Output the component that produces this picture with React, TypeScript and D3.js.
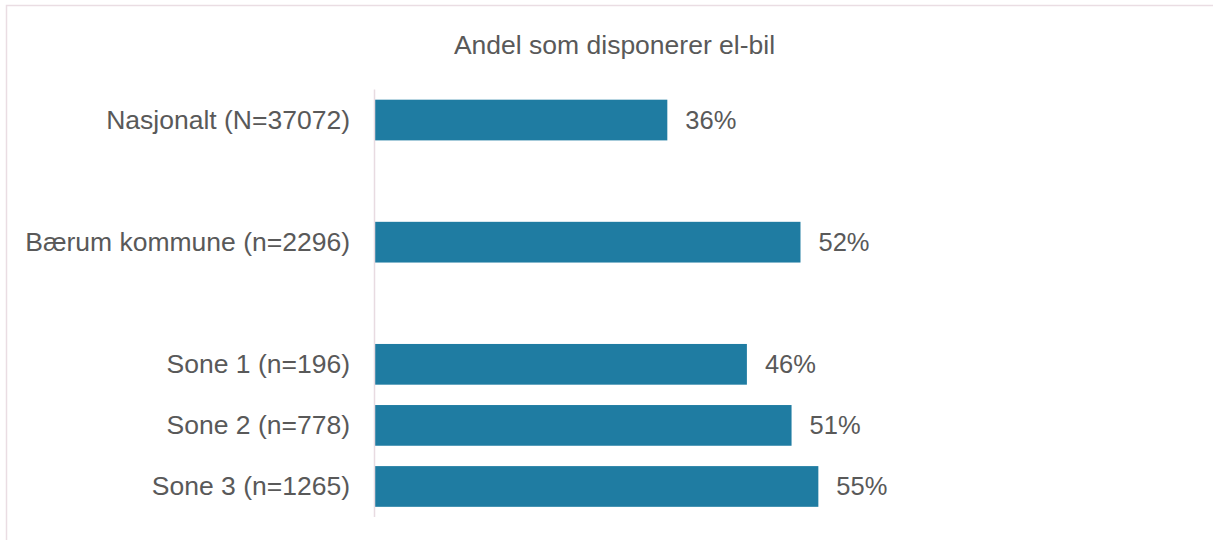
import React, { useEffect, useRef } from "react";
import * as d3 from "d3";

// slots with blank spacers between the groups, like in the original Excel chart
const categories = [
  "Nasjonalt (N=37072)",
  "",
  "Bærum kommune (n=2296)",
  " ",
  "Sone 1 (n=196)",
  "Sone 2 (n=778)",
  "Sone 3 (n=1265)",
];
const values = [36.0, null, 52.4, null, 45.8, 51.3, 54.6];
const valueLabels = ["36%", "", "52%", "", "46%", "51%", "55%"];
const title = "Andel som disponerer el-bil";

const width = 1213;
const height = 540;
const fontFamily = "'Liberation Sans', Arial, sans-serif";

export default function App() {
  const ref = useRef<SVGSVGElement | null>(null);

  useEffect(() => {
    const svg = d3.select(ref.current);
    svg.selectAll("*").remove();

    const x = d3.scaleLinear().domain([0, 100]).range([375, 1187]);
    const y = d3
      .scaleBand()
      .domain(categories)
      .range([89.5, 517])
      .paddingInner(1 / 3)
      .paddingOuter(1 / 6);

    // chart frame
    svg.append("rect")
      .attr("x", 6.5)
      .attr("y", 5.5)
      .attr("width", width + 20)
      .attr("height", height + 20)
      .attr("fill", "#fff")
      .attr("stroke", "#eadde3")
      .attr("stroke-width", 1.5);

    svg.append("text")
      .attr("x", 614.5)
      .attr("y", 45)
      .attr("text-anchor", "middle")
      .attr("dominant-baseline", "central")
      .attr("font-family", fontFamily)
      .attr("font-size", 26.5)
      .attr("fill", "#595959")
      .text(title);

    const rows = categories.map((c, i) => ({ c, v: values[i], lab: valueLabels[i] }));

    svg.append("g")
      .selectAll("rect")
      .data(rows.filter(d => d.v != null))
      .join("rect")
      .attr("x", x(0))
      .attr("y", d => y(d.c)!)
      .attr("width", d => x(d.v as number) - x(0))
      .attr("height", y.bandwidth())
      .attr("fill", "#1f7ca2");

    // category axis line
    svg.append("line")
      .attr("x1", 374.5)
      .attr("x2", 374.5)
      .attr("y1", 89.5)
      .attr("y2", 517)
      .attr("stroke", "#e8dbe1")
      .attr("stroke-width", 1.5);

    svg.append("g")
      .selectAll("text")
      .data(rows.filter(d => d.c.trim() !== ""))
      .join("text")
      .attr("x", 350)
      .attr("y", d => y(d.c)! + y.bandwidth() / 2)
      .attr("text-anchor", "end")
      .attr("dominant-baseline", "central")
      .attr("font-family", fontFamily)
      .attr("font-size", 26.5)
      .attr("fill", "#595959")
      .text(d => d.c);

    svg.append("g")
      .selectAll("text")
      .data(rows.filter(d => d.v != null))
      .join("text")
      .attr("x", d => x(d.v as number) + 18)
      .attr("y", d => y(d.c)! + y.bandwidth() / 2)
      .attr("dominant-baseline", "central")
      .attr("font-family", fontFamily)
      .attr("font-size", 25.5)
      .attr("fill", "#595959")
      .text(d => d.lab);
  }, []);

  return (
    <svg
      ref={ref}
      width={width}
      height={height}
      style={{ position: "absolute", left: 0, top: 0, display: "block" }}
    />
  );
}
